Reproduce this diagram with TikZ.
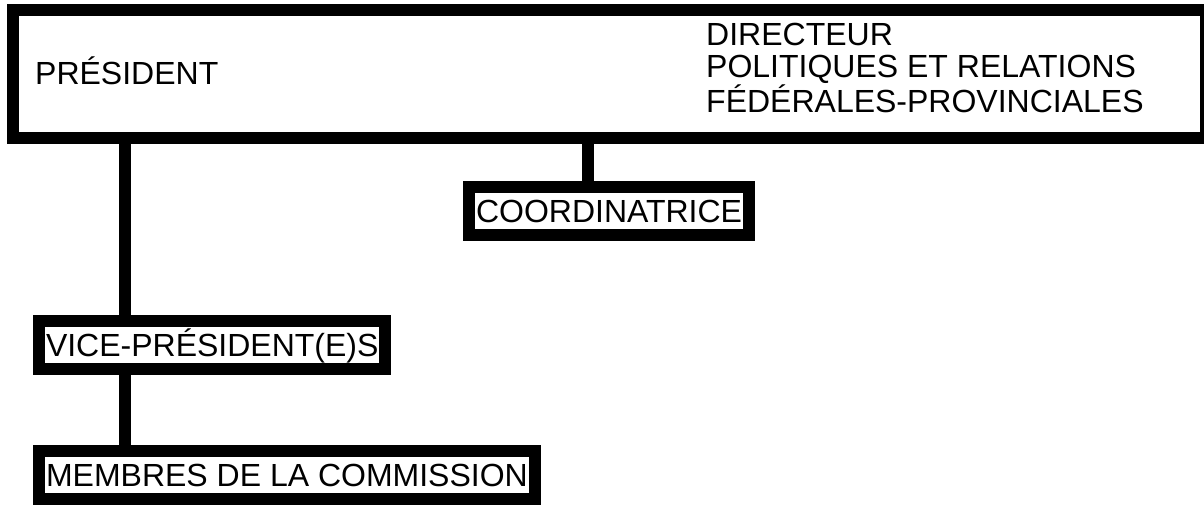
\documentclass[tikz,border=0pt]{standalone}
\usepackage{fontspec}
\setmainfont{Liberation Sans}
\tikzset{
    every node/.style={font=\fontsize{32}{32}\selectfont},
    box/.style={draw, line width=12pt, fill=white, inner xsep=7pt,
        inner ysep=6.2pt, text height=29pt, text depth=6.8pt},
    lbl/.style={inner sep=0pt}
}
\tikzset{
    conn/.style={line width=12pt}
}

\begin{document}
\begin{tikzpicture}[x=1pt, y=-1pt]
  \useasboundingbox (0,0) rectangle (1204,506);

  \node (top) [draw, line width=12pt, minimum width=1193pt,
      minimum height=127.5pt] at (609.5, 73.75) {};
  \node (pres) [lbl, anchor=base west] at (35, 84) {PRÉSIDENT};
  \node (dir) [lbl, align=left, anchor=north west] at (706, 23)
      {DIRECTEUR\\POLITIQUES ET RELATIONS\\FÉDÉRALES-PROVINCIALES};

  \node (coord) [box, anchor=north west] at (463, 181) {COORDINATRICE};
  \node (vp) [box, anchor=north west] at (33, 315) {VICE-PRÉSIDENT(E)S};
  \node (mem) [box, anchor=north west] at (33, 445) {MEMBRES DE LA COMMISSION};

  \coordinate (vpcol) at (125, 0);
  \coordinate (cocol) at (588, 0);

  \draw[conn] (top.south -| vpcol) -- (vp.north -| vpcol);
  \draw[conn] (top.south -| cocol) -- (coord.north -| cocol);
  \draw[conn] (vp.south -| vpcol) -- (mem.north -| vpcol);
\end{tikzpicture}
\end{document}
